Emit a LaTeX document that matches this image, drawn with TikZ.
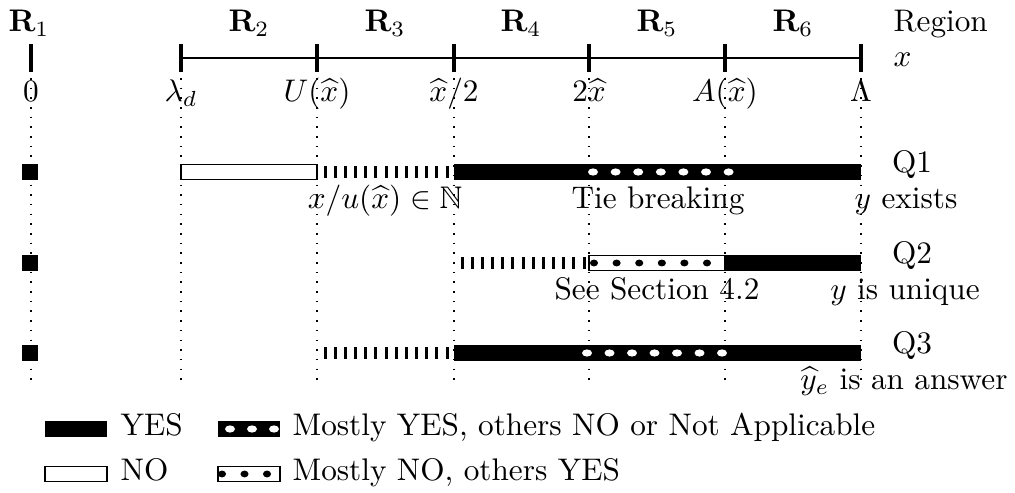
\documentclass[tikz,border=0pt]{standalone}
\usepackage{amsmath}
\usepackage{amssymb}
\begin{document}
\begin{tikzpicture}[x=0.32pt,y=-0.32pt,
  vdot/.style={line width=0.5pt, dash pattern=on 0.5pt off 2.6pt},
  axisline/.style={line width=0.5pt},
  axtick/.style={line width=1pt},
  yesbar/.style={fill=black},
  nobar/.style={draw=black, line width=0.4pt, fill=white},
  stripe/.style={fill=black},
  wdot/.style={fill=white},
  bdot/.style={fill=black},
  lbl/.style={anchor=base, inner sep=0pt},
  lbw/.style={anchor=base west, inner sep=0pt}]
\useasboundingbox (0,0) rectangle (1015,493);
% positions
\foreach \n/\x in {0/31,1/181,2/317,3/454,4/589,5/725,6/861} {
  \coordinate (top\n) at (\x,78);
  \coordinate (bot\n) at (\x,386);
  \coordinate (tu\n) at (\x,44);
  \coordinate (td\n) at (\x,72);
}
% dotted guides
\foreach \n in {0,...,6} { \draw[vdot] (top\n) -- (bot\n); }
% axis
\coordinate (axl) at (181,58);
\coordinate (axr) at (861,58);
\draw[axisline] (axl) -- (axr);
\foreach \n in {0,...,6} { \draw[axtick] (tu\n) -- (td\n); }
% region labels
\node[lbl] (r1) at (29,32) {$\mathbf{R}_1$};
\node[lbl] (r2) at (249,32) {$\mathbf{R}_2$};
\node[lbl] (r3) at (385,32) {$\mathbf{R}_3$};
\node[lbl] (r4) at (521,32) {$\mathbf{R}_4$};
\node[lbl] (r5) at (657,32) {$\mathbf{R}_5$};
\node[lbl] (r6) at (793,32) {$\mathbf{R}_6$};
\node[lbw] (region) at (893,32) {Region};
\node[lbw] (xlab) at (893,67) {$x$};
% tick labels
\node[lbl] (l0) at (31,102) {$0$};
\node[lbl] (l1) at (181,102) {$\lambda_d$};
\node[lbl] (l2) at (317,102) {$U(\widehat{x})$};
\node[lbl] (l3) at (454,102) {$\widehat{x}/2$};
\node[lbl] (l4) at (589,102) {$2\widehat{x}$};
\node[lbl] (l5) at (725,102) {$A(\widehat{x})$};
\node[lbl] (l6) at (861,102) {$\Lambda$};
% ---------- Q1 ----------
\fill[yesbar] (22,164) rectangle (38,180);
\draw[nobar] (181,164.5) rectangle (317,179.5);
\foreach \i in {0,...,12} { \fill[stripe] ({325+10.17*\i-1.5},166) rectangle ({325+10.17*\i+1.5},178); }
\fill[yesbar] (454,164) rectangle (861,180);
\foreach \i in {0,...,6} { \fill[wdot] ({593+22.6*\i},172) ellipse [x radius=1.6pt, y radius=1.15pt]; }
\node[lbl] (q1) at (912,173) {Q1};
\node[lbl] (q1a) at (385,209) {$x/u(\widehat{x})\in\mathbb{N}$};
\node[lbl] (q1b) at (658,209) {Tie breaking};
\node[lbl] (q1c) at (906,209) {$y$ exists};
% ---------- Q2 ----------
\fill[yesbar] (22,255) rectangle (38,271);
\foreach \i in {0,...,12} { \fill[stripe] ({462+10.17*\i-1.5},257) rectangle ({462+10.17*\i+1.5},269); }
\draw[nobar] (589,255.5) rectangle (725,270.5);
\foreach \i in {0,...,5} { \fill[bdot] ({594+22.6*\i},263) ellipse [x radius=1.3pt, y radius=1.1pt]; }
\fill[yesbar] (725,255) rectangle (861,271);
\node[lbl] (q2) at (912,264) {Q2};
\node[lbl] (q2a) at (657,300) {See Section 4.2};
\node[lbl] (q2b) at (905,300) {$y$ is unique};
% ---------- Q3 ----------
\fill[yesbar] (22,345) rectangle (38,361);
\foreach \i in {0,...,12} { \fill[stripe] ({325+10.17*\i-1.5},347) rectangle ({325+10.17*\i+1.5},359); }
\fill[yesbar] (454,345) rectangle (861,361);
\foreach \i in {0,...,6} { \fill[wdot] ({587+22.5*\i},353) ellipse [x radius=1.6pt, y radius=1.15pt]; }
\node[lbl] (q3) at (912,354) {Q3};
\node[lbl] (q3a) at (904,390) {$\widehat{y}_e$ is an answer};
% ---------- legend ----------
\fill[yesbar] (45,421) rectangle (107,437);
\node[lbw] (lyes) at (120,436) {YES};
\draw[nobar] (45,466.5) rectangle (107,481.5);
\node[lbw] (lno) at (120,481) {NO};
\begin{scope}
  \clip (218,421) rectangle (280,437);
  \fill[yesbar] (218,421) rectangle (280,437);
  \foreach \i in {0,...,2} { \fill[wdot] ({230+22*\i},429) ellipse [x radius=1.6pt, y radius=1.15pt]; }
\end{scope}
\node[lbw] (lmy) at (292,436) {Mostly YES, others NO or Not Applicable};
\begin{scope}
  \clip (218,466.5) rectangle (280,481.5);
  \draw[nobar] (218,466.5) rectangle (280,481.5);
  \foreach \i in {0,...,2} { \fill[bdot] ({222+22.5*\i},474) ellipse [x radius=1.3pt, y radius=1.1pt]; }
\end{scope}
\draw[line width=0.4pt] (218,466.5) rectangle (280,481.5);
\node[lbw] (lmn) at (292,481) {Mostly NO, others YES};
\end{tikzpicture}
\end{document}
